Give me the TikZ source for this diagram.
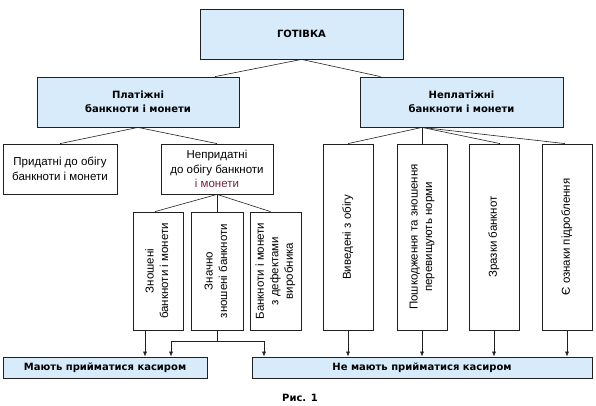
\documentclass[tikz,border=0pt]{standalone}
\usepackage{fontspec}
\setmainfont{Liberation Sans}
\newfontfamily\headfont{DejaVu Sans}
\usepackage{xcolor}
\usepackage{graphicx}
\usetikzlibrary{arrows.meta}

% rotated text for the tall boxes
\newcommand{\vtext}[1]{\rotatebox{90}{\begin{tabular}{@{}c@{}}#1\end{tabular}}}

\begin{document}
\begin{tikzpicture}[x=1pt,y=-1pt]
    % --- COLOURS ---
    \definecolor{boxBlue}{RGB}{215,235,251}
    \definecolor{lineGray}{RGB}{35,31,32}
    \definecolor{monetRed}{RGB}{115,35,65}

    % --- STYLES ---
    \tikzset{
        blueNode/.style={draw=lineGray, fill=boxBlue, line width=0.8pt, inner sep=0pt, align=center, font=\headfont\bfseries\fontsize{10}{14}\selectfont},
        whiteNode/.style={draw=lineGray, fill=white, line width=0.8pt, inner sep=0pt, align=center, font=\fontsize{11.5}{14.5}\selectfont},
        plainLine/.style={draw=lineGray, line width=0.6pt},
        arrowLine/.style={-{Latex[length=5pt,width=4pt]}, draw=lineGray, line width=0.6pt}
    }

    \useasboundingbox (0,0) rectangle (596,405);

    % --- NODES ---

    % Top level
    \node[blueNode, minimum width=203pt, minimum height=50pt] (got) at (301.5,34) {ГОТІВКА};

    % Second level
    \node[blueNode, minimum width=202pt, minimum height=50pt] (plat) at (138,102) {Платіжні\\банкноти і монети};
    \node[blueNode, minimum width=203pt, minimum height=50pt] (neplat) at (461.5,102) {Неплатіжні\\банкноти і монети};

    % Left branch
    \node[whiteNode, minimum width=114pt, minimum height=50pt] (prid) at (60,169) {Придатні до обігу\\банкноти і монети};
    \node[whiteNode, minimum width=112pt, minimum height=50pt] (neprid) at (217,169) {Непридатні\\до обігу банкноти\\\textcolor{monetRed}{і монети}};

    \node[whiteNode, minimum width=50pt, minimum height=118pt] (znosh) at (158,271) {\vtext{Зношені\\банкноти і монети}};
    \node[whiteNode, minimum width=52pt, minimum height=118pt] (znach) at (217,271) {\vtext{Значно\\зношені банкноти}};
    \node[whiteNode, minimum width=51pt, minimum height=118pt] (defect) at (275.5,271) {\vtext{Банкноти і монети\\з дефектами\\виробника}};

    % Right branch
    \node[whiteNode, minimum width=50pt, minimum height=186pt] (vyved) at (348,237) {\vtext{Виведені з обігу}};
    \node[whiteNode, minimum width=50pt, minimum height=186pt] (poshk) at (422,237) {\vtext{Пошкодження та зношення\\перевищують норми}};
    \node[whiteNode, minimum width=50pt, minimum height=186pt] (zrazky) at (494,237) {\vtext{Зразки банкнот}};
    \node[whiteNode, minimum width=50pt, minimum height=186pt] (oznaky) at (567,237) {\vtext{Є ознаки підроблення}};

    % Bottom level
    \node[blueNode, minimum width=204pt, minimum height=21pt] (maiut) at (105,367.5) {Мають прийматися касиром};
    \node[blueNode, minimum width=340pt, minimum height=21pt] (nemaiut) at (422,367.5) {Не мають прийматися касиром};

    % Caption
    \node[font=\headfont\bfseries\fontsize{10}{12}\selectfont] (caption) at (300,398) {Рис. 1};

    % --- LINES ---
    \draw[plainLine] (got.south) -- ([xshift=77pt]plat.north);
    \draw[plainLine] (got.south) -- ([xshift=-81pt]neplat.north);

    \draw[plainLine] (plat.south) -- (prid.north);
    \draw[plainLine] (plat.south) -- (neprid.north);

    \draw[plainLine] (neprid.south) -- ([xshift=-3pt]znosh.north);
    \draw[plainLine] (neprid.south) -- (znach.north);
    \draw[plainLine] (neprid.south) -- ([xshift=-5pt]defect.north);

    \draw[plainLine] (poshk.north |- neplat.south) -- (vyved.north);
    \draw[plainLine] (poshk.north |- neplat.south) -- (poshk.north);
    \draw[plainLine] (poshk.north |- neplat.south) -- ([xshift=6pt]zrazky.north);
    \draw[plainLine] (poshk.north |- neplat.south) -- ([xshift=-2pt]oznaky.north);

    % --- ARROWS ---
    \draw[arrowLine] ([xshift=-13pt]znosh.south) -- ([xshift=-13pt]znosh.south |- maiut.north);

    \coordinate (fork) at ([yshift=-11pt]znach.south);
    \draw[plainLine] (znach.south) -- (fork);
    \draw[arrowLine] (fork) -| ([xshift=66pt]maiut.north);
    \draw[arrowLine] (fork) -| ([xshift=-158pt]nemaiut.north);

    \draw[arrowLine] (vyved.south) -- (vyved.south |- nemaiut.north);
    \draw[arrowLine] (poshk.south) -- (poshk.south |- nemaiut.north);
    \draw[arrowLine] (zrazky.south) -- (zrazky.south |- nemaiut.north);
    \draw[arrowLine] (oznaky.south) -- (oznaky.south |- nemaiut.north);

\end{tikzpicture}
\end{document}
